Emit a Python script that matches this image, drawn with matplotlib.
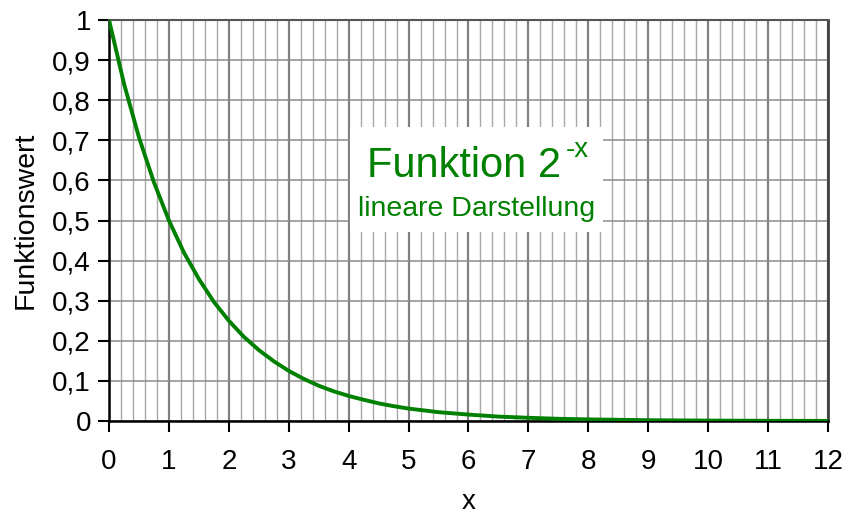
import numpy as np
import matplotlib
matplotlib.use("Agg")
import matplotlib.pyplot as plt
from matplotlib.ticker import MultipleLocator, FuncFormatter

plt.rcParams['font.family'] = ['Liberation Sans', 'DejaVu Sans']

# Werte (Funktion 2^-x)
x_werte = [0, 0.25, 0.5, 0.75, 1, 1.25, 1.5, 1.75, 2, 2.25, 2.5, 2.75, 3, 3.25, 3.5, 3.75,
           4, 4.25, 4.5, 4.75, 5, 5.5, 6, 6.5, 7, 7.5, 8, 9, 10, 11, 12]
y_werte = [1.0, 0.841, 0.707, 0.595, 0.5, 0.420, 0.354, 0.297, 0.25, 0.210, 0.177, 0.149,
           0.125, 0.105, 0.088, 0.074, 0.0625, 0.053, 0.044, 0.037, 0.031, 0.022, 0.016,
           0.011, 0.008, 0.0055, 0.004, 0.002, 0.001, 0.0005, 0.0002]
x_ticks = list(range(0, 13))
y_ticks = [0, 0.1, 0.2, 0.3, 0.4, 0.5, 0.6, 0.7, 0.8, 0.9, 1.0]

fig = plt.figure(figsize=(8.62, 5.16), dpi=100)
ax = fig.add_axes([0.1265, 0.1841, 0.834, 0.7771])

ax.plot(x_werte, y_werte, color="#008000", lw=2.8, zorder=5, solid_capstyle="butt")

ax.set_xlim(0, 12)
ax.set_ylim(0, 1)
ax.set_xticks(x_ticks)
ax.set_yticks(y_ticks)
ax.xaxis.set_minor_locator(MultipleLocator(0.2))
ax.yaxis.set_major_formatter(FuncFormatter(lambda v, p: ("%g" % round(v, 1)).replace(".", ",")))

# Gitter
ax.grid(True, which="major", axis="x", color="#808080", lw=1.6)
ax.grid(True, which="minor", axis="x", color="#a8a8a8", lw=1.0)
ax.grid(True, which="major", axis="y", color="#8c8c8c", lw=1.1)
ax.set_axisbelow(True)

ax.tick_params(axis="both", which="major", direction="out", length=8, width=1.5,
               labelsize=20, colors="black", pad=12)
ax.tick_params(axis="y", pad=5)
ax.tick_params(axis="x", which="minor", length=0)

for s in ["left", "bottom"]:
    ax.spines[s].set_color("black")
    ax.spines[s].set_linewidth(1.8)
ax.spines["top"].set_color("#555555")
ax.spines["top"].set_linewidth(1.5)
ax.spines["right"].set_color("#404040")
ax.spines["right"].set_linewidth(2.0)

ax.set_xlabel("x", fontsize=20, labelpad=10)
ax.set_ylabel("Funktionswert", fontsize=20.5, labelpad=10)

# Textfeld mit weissem Hintergrund
ax.add_patch(plt.Rectangle((4.02, 0.472), 4.23, 0.262, facecolor="white",
                           edgecolor="none", zorder=3))
ax.text(4.31, 0.6085, "Funktion 2", color="#008000", fontsize=30,
        ha="left", va="baseline", zorder=4)
ax.text(7.63, 0.658, "-x", color="#008000", fontsize=20,
        ha="left", va="baseline", zorder=4)
ax.text(4.16, 0.511, "lineare Darstellung", color="#008000", fontsize=20.5,
        ha="left", va="baseline", zorder=4)

fig.savefig("out.png", dpi=100)
